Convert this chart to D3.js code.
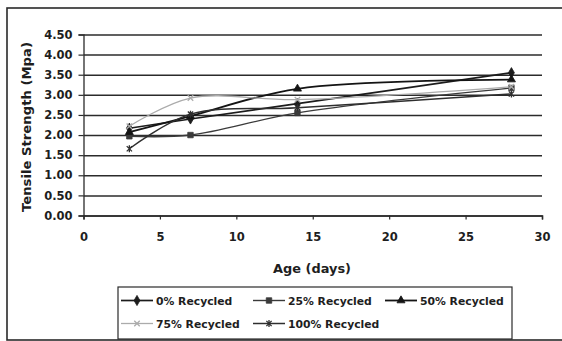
<!DOCTYPE html>
<html>
<head>
<meta charset="utf-8">
<script src="https://cdn.jsdelivr.net/npm/d3@7/dist/d3.min.js"></script>
<style>
  html, body { margin: 0; padding: 0; background: #fff; }
  svg { display: block; }
  .lbl { font-family: "DejaVu Sans", sans-serif; font-weight: bold; fill: #1e1e1e; }
</style>
</head>
<body>
<svg id="chart" width="562" height="341"></svg>
<script>
// Curing age (days) at which the specimens were tested
const ages = [3, 7, 14, 28];

// Tensile strength (MPa) for each recycled-aggregate replacement level
const recycled0   = [2.17, 2.40, 2.78, 3.55];
const recycled25  = [1.97, 2.00, 2.55, 3.17];
const recycled50  = [2.07, 2.47, 3.15, 3.38];
const recycled75  = [2.22, 2.92, 2.88, 3.20];
const recycled100 = [1.66, 2.52, 2.68, 3.02];

const seriesNames = ["0% Recycled", "25% Recycled", "50% Recycled", "75% Recycled", "100% Recycled"];

const yTicks = [0, 0.5, 1, 1.5, 2, 2.5, 3, 3.5, 4, 4.5];
const xTicks = [0, 5, 10, 15, 20, 25, 30];

const svg = d3.select("#chart");

// outer chart frame
svg.append("rect")
  .attr("x", 7).attr("y", 8).attr("width", 570).attr("height", 332)
  .attr("fill", "none").attr("stroke", "#2a2a2a").attr("stroke-width", 1.6);

const plotLeft = 83.5, plotRight = 542, plotTop = 34.5, plotBottom = 215.5;
const x = d3.scaleLinear().domain([0, 30]).range([plotLeft, plotRight]);
const y = d3.scaleLinear().domain([0, 4.5]).range([plotBottom, plotTop]);

// horizontal gridlines
svg.append("g")
  .attr("transform", `translate(${plotLeft},0)`)
  .call(d3.axisLeft(y).tickValues(yTicks).tickSize(-(plotRight - plotLeft)).tickFormat(""))
  .call(g => g.select(".domain").remove())
  .call(g => g.selectAll("line").attr("stroke", "#2b2b2b").attr("stroke-width", 1.5));

// y axis with ticks and labels
const yAxis = svg.append("g")
  .attr("transform", `translate(${plotLeft},0)`)
  .call(d3.axisLeft(y).tickValues(yTicks).tickSize(5).tickPadding(6).tickFormat(d3.format(".2f")));
yAxis.select(".domain").attr("stroke", "#2b2b2b").attr("stroke-width", 1.3);
yAxis.selectAll("line").attr("stroke", "#2b2b2b").attr("stroke-width", 1.2);
yAxis.selectAll("text").attr("class", "lbl").style("font-size", "11.5px");

// x axis with ticks and labels
const xAxis = svg.append("g")
  .attr("transform", `translate(0,${plotBottom})`)
  .call(d3.axisBottom(x).tickValues(xTicks).tickSize(4).tickPadding(13.5).tickFormat(d3.format("d")));
xAxis.select(".domain").attr("stroke", "#2b2b2b").attr("stroke-width", 1.5);
xAxis.selectAll("line").attr("stroke", "#2b2b2b").attr("stroke-width", 1.2);
xAxis.selectAll("text").attr("class", "lbl").style("font-size", "11.5px");

// axis titles
svg.append("text").attr("class", "lbl")
  .attr("x", 312).attr("y", 273).attr("text-anchor", "middle")
  .attr("textLength", 78).attr("lengthAdjust", "spacingAndGlyphs")
  .style("font-size", "12px").text("Age (days)");

svg.append("text").attr("class", "lbl")
  .attr("transform", "translate(31,127) rotate(-90)")
  .attr("text-anchor", "middle")
  .attr("textLength", 170).attr("lengthAdjust", "spacingAndGlyphs")
  .style("font-size", "12px").text("Tensile Strength (Mpa)");

// marker shapes not provided by d3.symbol
const asterisk = {
  draw(ctx, size) {
    const r = Math.sqrt(size) * 0.62;
    const d = r * 0.75;
    ctx.moveTo(-d, -d); ctx.lineTo(d, d);
    ctx.moveTo(-d, d); ctx.lineTo(d, -d);
    ctx.moveTo(0, -r); ctx.lineTo(0, r);
  }
};
const cross = {
  draw(ctx, size) {
    const r = Math.sqrt(size) * 0.5;
    ctx.moveTo(-r, -r); ctx.lineTo(r, r);
    ctx.moveTo(-r, r); ctx.lineTo(r, -r);
  }
};

const series = [
  { name: seriesNames[0], values: recycled0,   color: "#1c1c1c", width: 1.7, symbol: d3.symbolDiamond,  size: 30, filled: true },
  { name: seriesNames[1], values: recycled25,  color: "#3a3a3a", width: 1.4, symbol: d3.symbolSquare,   size: 30, filled: true },
  { name: seriesNames[2], values: recycled50,  color: "#141414", width: 1.8, symbol: d3.symbolTriangle, size: 28, filled: true },
  { name: seriesNames[3], values: recycled75,  color: "#ababab", width: 1.3, symbol: cross,             size: 30, filled: false },
  { name: seriesNames[4], values: recycled100, color: "#2e2e2e", width: 1.5, symbol: asterisk,          size: 32, filled: false }
];

const line = d3.line().x(d => x(d[0])).y(d => y(d[1])).curve(d3.curveCatmullRom.alpha(0.5));

const plot = svg.append("g");
series.forEach(s => {
  const pts = ages.map((a, i) => [a, s.values[i]]);
  plot.append("path")
    .attr("d", line(pts))
    .attr("fill", "none")
    .attr("stroke", s.color)
    .attr("stroke-width", s.width);
  plot.selectAll(null).data(pts).enter().append("path")
    .attr("transform", d => `translate(${x(d[0])},${y(d[1])})`)
    .attr("d", d3.symbol().type(s.symbol).size(s.size))
    .attr("fill", s.filled ? s.color : "none")
    .attr("stroke", s.color)
    .attr("stroke-width", s.filled ? 0.8 : 1.3);
});

// legend
const legend = svg.append("g");
legend.append("rect")
  .attr("x", 118).attr("y", 287).attr("width", 394).attr("height", 52)
  .attr("fill", "#fff").attr("stroke", "#2a2a2a").attr("stroke-width", 1.2);

const colX = [121, 253, 385];
const rowY = [300.5, 323.5];
series.forEach((s, i) => {
  const cx = colX[i % 3], cy = rowY[Math.floor(i / 3)];
  const g = legend.append("g").attr("transform", `translate(${cx},${cy})`);
  g.append("line").attr("x1", 0).attr("x2", 32).attr("y1", 0).attr("y2", 0)
    .attr("stroke", s.color).attr("stroke-width", s.width);
  g.append("path")
    .attr("transform", "translate(16,0)")
    .attr("d", d3.symbol().type(s.symbol).size(s.size))
    .attr("fill", s.filled ? s.color : "none")
    .attr("stroke", s.color)
    .attr("stroke-width", s.filled ? 0.8 : 1.3);
  g.append("text").attr("class", "lbl")
    .attr("x", 35).attr("y", 4)
    .style("font-size", "10.8px")
    .text(s.name);
});
</script>
</body>
</html>
